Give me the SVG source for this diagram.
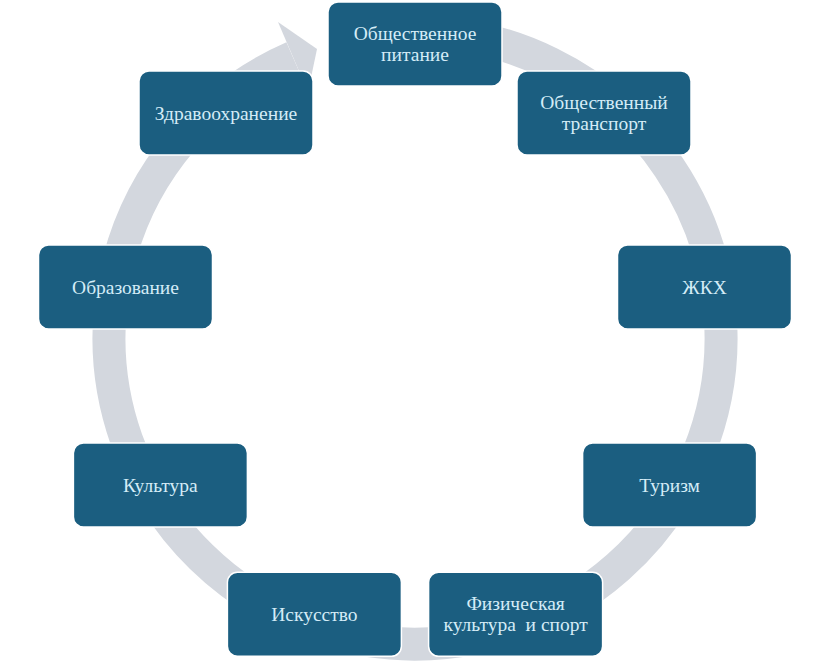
<svg xmlns="http://www.w3.org/2000/svg" width="826" height="663" viewBox="0 0 826 663">
<style>
.node rect{fill:#1b5e80;stroke:#ffffff;stroke-width:1.5}
.node text{font-family:"Liberation Serif","DejaVu Serif","Times New Roman",serif;font-size:19.5px;fill:#d4ecf7;text-anchor:middle;white-space:pre}
.ring{fill:none;stroke:#d3d7de;stroke-width:33}
</style>
<rect width="826" height="663" fill="#ffffff"/>
<g id="connectors">
<path class="ring" d="M 415 32 A 306 306 0 1 1 293 57.4"/>
<polygon points="278,22 317,49 308,92" fill="#d3d7de"/>
</g>
<g id="n1" class="node"><rect x="328" y="2" width="174" height="84" rx="10"/><text x="415" y="40">Общественное</text><text x="415" y="61">питание</text></g>
<g id="n2" class="node"><rect x="517" y="71" width="174" height="84" rx="10"/><text x="604" y="109">Общественный</text><text x="604" y="130">транспорт</text></g>
<g id="n3" class="node"><rect x="617.5" y="245" width="174" height="84" rx="10"/><text x="704.5" y="294">ЖКХ</text></g>
<g id="n4" class="node"><rect x="582.6" y="443" width="174" height="84" rx="10"/><text x="669.6" y="492">Туризм</text></g>
<g id="n5" class="node"><rect x="428.6" y="572.3" width="174" height="84" rx="10"/><text x="515.6" y="610">Физическая</text><text x="515.6" y="631" xml:space="preserve">культура  и спорт</text></g>
<g id="n6" class="node"><rect x="227.4" y="572.3" width="174" height="84" rx="10"/><text x="314.4" y="621">Искусство</text></g>
<g id="n7" class="node"><rect x="73.4" y="443" width="174" height="84" rx="10"/><text x="160.4" y="492">Культура</text></g>
<g id="n8" class="node"><rect x="38.5" y="245" width="174" height="84" rx="10"/><text x="125.5" y="294">Образование</text></g>
<g id="n9" class="node"><rect x="139" y="71" width="174" height="84" rx="10"/><text x="226" y="120">Здравоохранение</text></g>
</svg>
